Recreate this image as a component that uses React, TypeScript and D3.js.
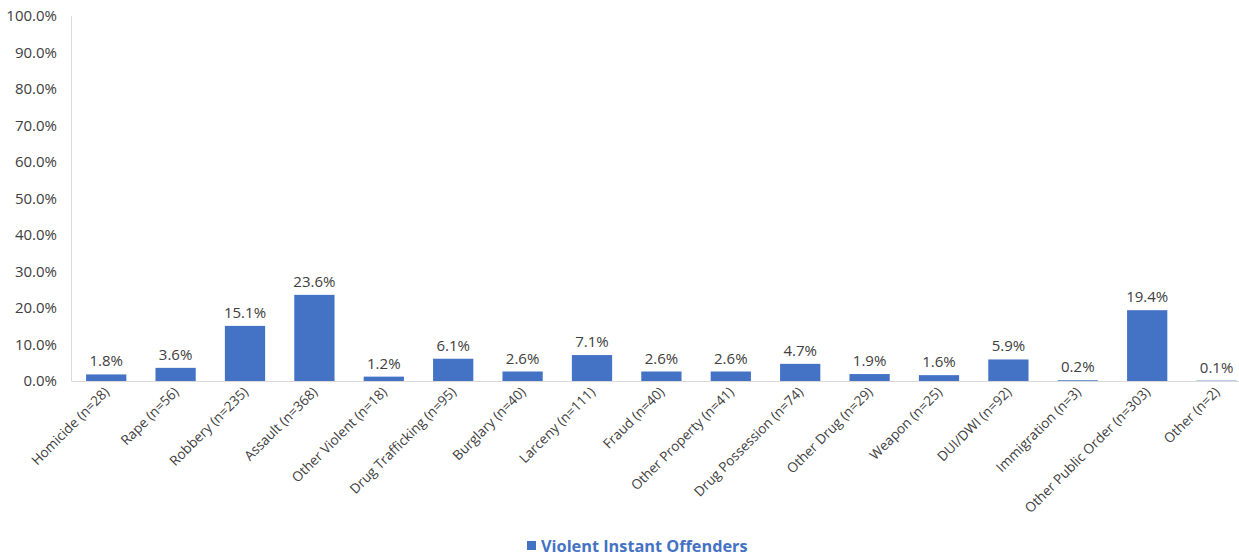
import React from "react";
import * as d3 from "d3";

const categories = [
  "Homicide (n=28)",
  "Rape (n=56)",
  "Robbery (n=235)",
  "Assault (n=368)",
  "Other Violent (n=18)",
  "Drug Trafficking (n=95)",
  "Burglary (n=40)",
  "Larceny (n=111)",
  "Fraud (n=40)",
  "Other Property (n=41)",
  "Drug Possession (n=74)",
  "Other Drug (n=29)",
  "Weapon (n=25)",
  "DUI/DWI (n=92)",
  "Immigration (n=3)",
  "Other Public Order (n=303)",
  "Other (n=2)",
];
const values = [1.8, 3.6, 15.1, 23.6, 1.2, 6.1, 2.6, 7.1, 2.6, 2.6, 4.7, 1.9, 1.6, 5.9, 0.2, 19.4, 0.1];
const yTicks = [0, 10, 20, 30, 40, 50, 60, 70, 80, 90, 100];
const seriesName = "Violent Instant Offenders";

const W = 1239;
const H = 556;
const FONT = "'Open Sans', 'DejaVu Sans', sans-serif";
const BLUE = "#4472C4";

export default function App() {
  const x = d3.scaleBand<string>().domain(categories).range([71.5, 71.5 + 17 * 69.4]).paddingInner(0.42).paddingOuter(0.21);
  const y = d3.scaleLinear().domain([0, 100]).range([381, 16]);
  return (
    <div style={{ position: "absolute", left: 0, top: 0 }}>
      <svg width={W} height={H} style={{ display: "block", background: "#fff" }} fontFamily={FONT}>
        {yTicks.map((t) => (
          <text key={t} x={57} y={y(t)} dy="0.35em" textAnchor="end" fontSize={15} fill="#404040">
            {t.toFixed(1)}%
          </text>
        ))}
        <line x1={71.5} x2={71.5} y1={y(100)} y2={y(0)} stroke="#d9d9d9" strokeWidth={1} />
        {categories.map((c, i) => (
          <g key={c}>
            <rect x={x(c)} width={x.bandwidth()} y={y(values[i])} height={y(0) - y(values[i])} fill={BLUE} />
            <text x={x(c)! + x.bandwidth() / 2} y={y(values[i]) - 8} textAnchor="middle" fontSize={15} fill="#404040">
              {values[i].toFixed(1)}%
            </text>
            <text
              transform={`translate(${x(c)! + x.bandwidth() / 2 + 4},${393}) rotate(-45)`}
              textAnchor="end"
              fontSize={13.6}
              fill="#404040"
            >
              {c}
            </text>
          </g>
        ))}
        <line x1={71.5} x2={W} y1={381.5} y2={381.5} stroke="#d9d9d9" strokeWidth={1} />
        <rect x={527} y={541} width={9} height={9} fill={BLUE} />
        <text x={541} y={546} dy="0.35em" fontSize={16.3} fontWeight="bold" fill={BLUE}>
          {seriesName}
        </text>
      </svg>
    </div>
  );
}
